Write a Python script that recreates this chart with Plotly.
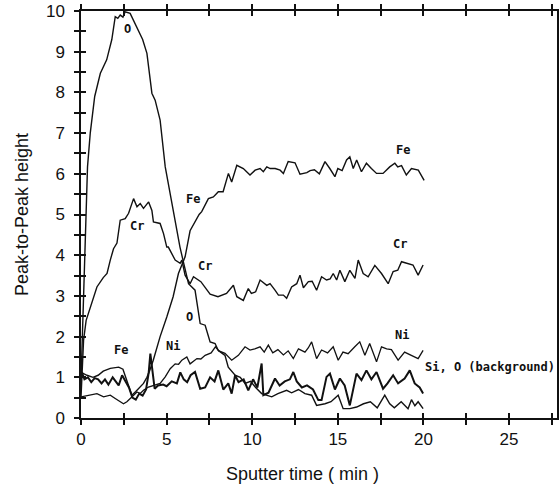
import plotly.graph_objects as go

# ---------------- data ----------------
o_x = [0.0, 0.1, 0.2, 0.3, 0.38, 0.54, 0.8, 1.13, 1.5, 1.8, 2.0, 2.15, 2.29, 2.45, 2.58, 2.87,
       3.27, 3.6, 3.85, 4.14, 4.33, 4.62, 4.92, 5.2, 5.5, 5.78, 6.0, 6.28, 6.66, 6.96, 7.25,
       7.54, 7.83, 8.02, 8.41, 8.6, 9.0, 9.3, 9.58, 9.9, 10.2, 10.55, 11.14, 11.5, 12.01, 12.3,
       12.7, 13.08, 13.47, 13.76, 14.25, 14.6, 15.02, 15.31, 15.7, 16.1, 16.5, 16.9, 17.3,
       17.74, 18.03, 18.3, 18.7, 19.1, 19.3, 19.5, 19.69, 19.98]
o_y = [0.9, 2.2, 3.8, 5.2, 6.17, 7.0, 7.9, 8.47, 8.8, 9.3, 9.86, 9.82, 9.9, 9.85, 9.98, 9.94,
       9.61, 9.3, 8.96, 7.98, 7.81, 7.32, 6.17, 5.52, 4.86, 4.2, 3.8, 3.3, 3.14, 2.32, 2.28,
       1.87, 1.83, 1.66, 1.54, 1.25, 1.05, 1.0, 0.85, 0.9, 0.75, 0.6, 0.52, 0.6, 0.68, 0.62,
       0.7, 0.6, 0.56, 0.31, 0.35, 0.4, 0.56, 0.23, 0.23, 0.27, 0.35, 0.4, 0.25,
       0.56, 0.35, 0.25, 0.4, 0.23, 0.45, 0.3, 0.4, 0.23]

cr_x = [0.0, 0.08, 0.15, 0.3, 0.54, 0.93, 1.3, 1.52, 1.71, 1.9, 2.1, 2.29, 2.58, 2.78, 3.07,
        3.27, 3.46, 3.65, 3.95, 4.14, 4.23, 4.62, 4.82, 5.01, 5.1, 5.5, 5.79, 5.89, 6.08, 6.37,
        6.57, 7.0, 7.54, 8.0, 8.5, 8.9, 9.1, 9.48, 9.77, 9.95, 10.2, 10.46, 10.85, 11.04, 11.33,
        11.53, 11.82, 12.01, 12.3, 12.6, 12.79, 12.99, 13.28, 13.5, 13.76, 14.05, 14.34, 14.55,
        14.73, 14.93, 15.12, 15.41, 15.7, 16.0, 16.19, 16.48, 16.77, 17.16, 17.55, 17.94,
        18.23, 18.5, 18.72, 19.1, 19.39, 19.69, 19.98]
cr_y = [0.5, 1.2, 1.91, 2.4, 2.73, 3.22, 3.45, 3.55, 3.88, 4.16, 4.3, 4.86, 4.9, 5.03, 5.39,
        5.19, 5.27, 5.15, 5.31, 5.1, 4.82, 4.78, 4.53, 4.2, 4.2, 3.88, 3.8, 3.88, 3.51, 3.3,
        3.47, 3.35, 3.04, 2.98, 3.06, 3.26, 2.98, 2.89, 3.18, 3.06, 3.1, 3.39, 3.26, 3.3, 3.14,
        3.02, 3.02, 2.94, 3.22, 3.3, 3.51, 3.2, 3.35, 3.36, 3.14, 3.47, 3.39, 3.42,
        3.55, 3.39, 3.63, 3.35, 3.63, 3.43, 3.88, 3.55, 3.47, 3.75, 3.55, 3.3,
        3.6, 3.63, 3.84, 3.8, 3.76, 3.51, 3.76]

fe_x = [0.0, 0.1, 0.35, 0.7, 1.0, 1.3, 1.71, 2.2, 2.45, 2.7, 2.97, 3.2, 3.46, 3.65, 3.85, 4.0,
        4.22, 4.62, 5.01, 5.38, 5.69, 5.9, 6.08, 6.37, 6.68, 6.9, 7.05, 7.44, 7.73, 8.02, 8.3,
        8.61, 8.8, 9.1, 9.48, 9.87, 10.17, 10.46, 10.65, 10.85, 11.05, 11.34, 11.63, 11.82,
        12.1, 12.5, 12.79, 13.19, 13.38, 13.63, 13.92, 14.25, 14.53, 14.83, 15.0, 15.25,
        15.51, 15.7, 15.9, 16.1, 16.38, 16.67, 16.96, 17.26, 17.64, 18.03, 18.33, 18.5,
        18.72, 19.0, 19.3, 19.7, 20.04]
fe_y = [1.0, 1.1, 1.05, 1.0, 1.05, 1.15, 1.22, 1.25, 1.2, 0.9, 0.56, 0.65, 0.76, 0.85, 1.0, 1.15,
        1.42, 2.0, 2.48, 2.98, 3.55, 3.75, 3.96, 4.6, 4.82, 5.0, 5.07, 5.39, 5.43, 5.56, 5.56,
        6.01, 5.8, 6.21, 6.13, 5.97, 6.09, 6.13, 6.05, 6.17, 6.13, 6.13, 6.09, 6.01,
        6.3, 6.27, 5.99, 6.03, 6.08, 6.1, 6.0, 6.3, 6.13, 5.93, 6.13, 6.08,
        6.34, 6.42, 6.13, 6.34, 6.05, 6.26, 6.13, 6.01, 6.01, 6.17, 6.26, 6.17,
        6.2, 5.97, 6.13, 6.09, 5.84]

ni_x = [0.0, 0.3, 0.54, 0.93, 1.32, 1.71, 2.0, 2.48, 2.68, 2.97, 3.27, 3.46, 3.65, 3.94, 4.3,
        4.62, 4.92, 5.21, 5.5, 5.7, 5.89, 6.18, 6.37, 6.77, 7.0, 7.25, 7.6, 7.85, 8.05, 8.41,
        8.8, 9.19, 9.58, 9.87, 10.15, 10.46, 10.7, 10.94, 11.2, 11.5, 11.82, 12.1, 12.4, 12.7,
        13.08, 13.27, 13.47, 13.76, 14.05, 14.4, 14.73, 15.02, 15.3, 15.6, 15.99, 16.28, 16.58,
        16.86, 17.26, 17.55, 17.85, 18.13, 18.52, 18.9, 19.29, 19.69, 19.98]
ni_y = [0.52, 0.55, 0.56, 0.6, 0.52, 0.56, 0.48, 0.35, 0.4, 0.52, 0.64, 0.6, 0.68, 0.76, 0.8,
        0.85, 1.01, 1.21, 1.33, 1.32, 1.42, 1.5, 1.33, 1.46, 1.45, 1.54, 1.6, 1.75, 1.65, 1.59,
        1.42, 1.54, 1.75, 1.67, 1.7, 1.75, 1.62, 1.79, 1.6, 1.68, 1.55, 1.65, 1.46, 1.7,
        1.62, 1.72, 1.87, 1.46, 1.67, 1.6, 1.75, 1.42, 1.62, 1.58, 1.75, 1.87, 1.54,
        1.83, 1.38, 1.75, 1.7, 1.68, 1.42, 1.62, 1.54, 1.46, 1.66]

si_x = [0.0, 0.05, 0.2, 0.4, 0.6, 0.8, 1.0, 1.2, 1.4, 1.6, 1.85, 2.0, 2.2, 2.4, 2.6, 2.8, 3.0,
        3.2, 3.4, 3.6, 3.8, 3.95, 4.05, 4.15, 4.3, 4.5, 4.8, 5.0, 5.3, 5.6, 5.8, 6.0, 6.2, 6.4,
        6.66, 6.96, 7.25, 7.54, 7.8, 8.02, 8.31, 8.6, 8.8, 9.0, 9.2, 9.5, 9.77, 10.05, 10.3,
        10.55, 10.65, 10.95, 11.33, 11.6, 11.9, 12.2, 12.4, 12.6, 12.9, 13.2, 13.55, 13.86,
        14.05, 14.34, 14.54, 14.83, 15.12, 15.4, 15.7, 16.09, 16.38, 16.67, 16.96, 17.26,
        17.64, 17.9, 18.23, 18.52, 18.9, 19.2, 19.49, 19.78, 19.98]
si_y = [0.95, 1.13, 0.95, 1.0, 0.88, 0.98, 0.95, 0.85, 0.95, 0.82, 1.0, 0.9, 0.8, 1.05, 0.9,
        0.75, 0.5, 0.45, 0.6, 0.55, 0.7, 1.1, 1.58, 1.2, 0.72, 0.8, 0.82, 0.78, 0.9, 0.85, 1.12,
        0.95, 0.88, 1.05, 1.13, 0.72, 0.75, 1.0, 0.9, 1.17, 0.7, 0.85, 0.6, 1.05, 0.88, 0.95,
        0.68, 0.95, 0.75, 1.34, 0.56, 0.62, 0.97, 0.8, 0.9, 0.95, 1.13, 0.9, 0.75, 0.8, 0.7,
        0.44, 0.44, 1.01, 1.09, 0.7, 0.97, 0.8, 0.31, 1.09, 0.93, 1.17, 0.95, 1.13,
        0.72, 0.85, 1.05, 0.85, 0.97, 1.17, 0.85, 0.75, 0.6]

# curve labels: text, x, y
label_text = ["O", "Cr", "Fe", "Cr", "O", "Fe", "Ni", "Fe", "Cr", "Ni", "Si, O (background)"]
label_x = [2.74, 3.27, 6.53, 7.25, 6.31, 2.33, 5.4, 18.81, 18.62, 18.75, 27.72]
label_y = [9.57, 4.72, 5.37, 3.73, 2.48, 1.66, 1.76, 6.58, 4.27, 2.05, 1.25]
label_anchor = ["center"] * 10 + ["right"]

x_tickvals = [0, 2.5, 5, 7.5, 10, 12.5, 15, 17.5, 20, 22.5, 25, 27.5]
x_ticktext = ["0", "", "5", "", "10", "", "15", "", "20", "", "25", ""]
y_tickvals = [i * 0.5 for i in range(21)]
y_ticktext = [str(int(v)) if v == int(v) else "" for v in y_tickvals]

x_title = "Sputter time ( min )"
y_title = "Peak-to-Peak height"

# ---------------- figure ----------------
INK = "#111111"
fig = go.Figure()
for xs, ys, w in [(o_x, o_y, 1.4), (cr_x, cr_y, 1.4), (fe_x, fe_y, 1.4),
                  (ni_x, ni_y, 1.3), (si_x, si_y, 2.0)]:
    fig.add_trace(go.Scatter(x=xs, y=ys, mode="lines",
                             line=dict(color=INK, width=w), showlegend=False,
                             hoverinfo="skip"))
# empty trace to activate the overlay axes (inward half of crossing ticks)
fig.add_trace(go.Scatter(x=[], y=[], xaxis="x2", yaxis="y2", showlegend=False))

for t, xx, yy, a in zip(label_text, label_x, label_y, label_anchor):
    fig.add_annotation(x=xx, y=yy, text="<b>" + t + "</b>", showarrow=False, xanchor=a,
                       yanchor="middle", borderpad=0,
                       font=dict(family="DejaVu Sans Mono", size=12, color=INK))

XR = [0, 27.8]
YR = [0, 10]
tickfont = dict(family="Liberation Sans", size=17, color=INK)
fig.update_layout(
    width=560, height=488,
    margin=dict(l=81, r=3, t=11, b=70, autoexpand=False),
    plot_bgcolor="white", paper_bgcolor="white",
    xaxis=dict(range=XR, tickvals=x_tickvals, ticktext=x_ticktext, ticks="outside",
               ticklen=5, tickwidth=1.5, tickcolor=INK, showline=True, linewidth=1.5,
               linecolor=INK, mirror="ticks", showgrid=False, zeroline=False,
               tickfont=tickfont, fixedrange=True, automargin=False),
    yaxis=dict(range=YR, tickvals=y_tickvals, ticktext=y_ticktext, ticks="outside",
               ticklen=5, tickwidth=1.5, tickcolor=INK, showline=True, linewidth=1.5,
               linecolor=INK, mirror=True, showgrid=False, zeroline=False,
               tickfont=tickfont, ticklabelstandoff=6, fixedrange=True, automargin=False),
    xaxis2=dict(range=XR, overlaying="x", anchor="y2", side="bottom", tickvals=x_tickvals,
                ticks="inside", ticklen=5, tickwidth=1.5, tickcolor=INK, mirror="ticks",
                showticklabels=False, showline=False, showgrid=False, zeroline=False,
                automargin=False),
    yaxis2=dict(range=YR, overlaying="y", anchor="x2", side="left", tickvals=y_tickvals,
                ticks="inside", ticklen=5, tickwidth=1.5, tickcolor=INK,
                showticklabels=False, showline=False, showgrid=False, zeroline=False,
                automargin=False),
)
fig.add_annotation(text=x_title, xref="paper", yref="paper", x=(302 - 81) / 476, y=-(474 - 418) / 407,
                   xanchor="center", yanchor="middle", showarrow=False,
                   font=dict(family="Liberation Sans", size=18, color=INK))
fig.add_annotation(text=y_title, xref="paper", yref="paper", x=-(81 - 22) / 476, y=(418 - 215) / 407,
                   xanchor="center", yanchor="middle", showarrow=False, textangle=-90,
                   font=dict(family="Liberation Sans", size=18, color=INK))

fig.write_html("out.html", config={"displayModeBar": False},
               post_script="document.body.style.margin='0px';document.body.style.padding='0px';")
